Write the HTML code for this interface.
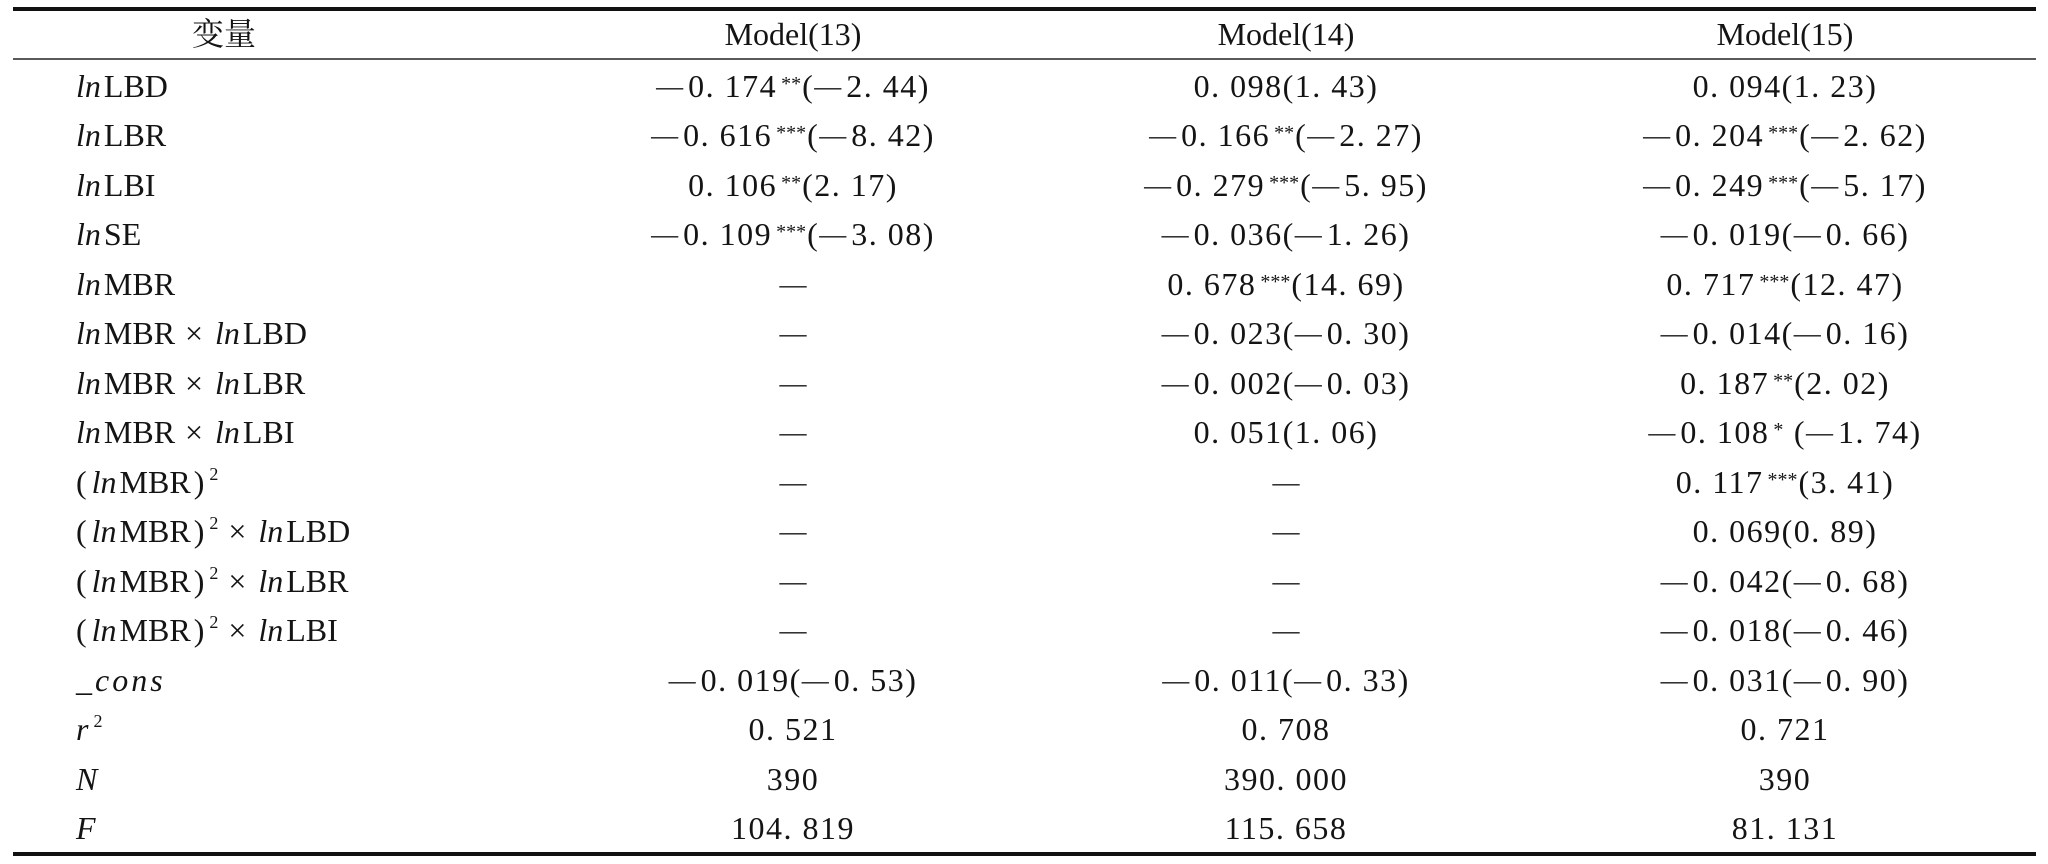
<!DOCTYPE html>
<html>
<head>
<meta charset="utf-8">
<style>
html,body{margin:0;padding:0;background:#fff;}
body{width:2048px;height:864px;position:relative;overflow:hidden;
font-family:"Liberation Serif","Noto Serif CJK SC",serif;color:#141414;font-size:32px;}
.line{position:absolute;left:13px;width:2023px;}
.t{position:absolute;height:50px;line-height:50px;white-space:nowrap;}
.lab{left:76px;}
.c{width:600px;text-align:center;letter-spacing:1.5px;}
.c1{left:493px;}
.c2{left:986px;}
.c3{left:1485px;}
i.ln{margin-right:3px;}
.m{font-size:27px;position:relative;top:-2px;margin-right:5px;letter-spacing:0;}
.m0{font-size:27px;position:relative;top:-2px;letter-spacing:0;}
sup.st{font-size:20px;vertical-align:7px;margin-left:4px;margin-right:1px;letter-spacing:0;line-height:0;}
sup.s2{font-size:18px;vertical-align:13px;margin-left:5px;line-height:0;}
.x{display:inline-block;width:42px;text-align:center;margin-left:-2px;}
.lp{margin-right:5px;}
.rp{margin-left:3px;}
.cons{letter-spacing:3px;}
.hd{position:absolute;top:9px;height:50px;line-height:50px;white-space:nowrap;}
</style>
</head>
<body>
<div class="line" style="top:7px;height:4px;background:#111;"></div>
<div class="line" style="top:58px;height:2px;background:#5a5a5a;"></div>
<div class="line" style="top:852px;height:4px;background:#111;"></div>

<div class="hd" style="left:124px;width:200px;text-align:center;top:7px;font-family:'Noto Serif CJK SC','Liberation Serif',serif;">变量</div>
<div class="hd c c1" style="letter-spacing:0;">Model(13)</div>
<div class="hd c c2" style="letter-spacing:0;">Model(14)</div>
<div class="hd c c3" style="letter-spacing:0;">Model(15)</div>

<!-- row 0 -->
<div class="t lab" style="top:61px;"><i class="ln">ln</i>LBD</div>
<div class="t c c1" style="top:61px;"><span class="m">—</span>0. 174<sup class="st">**</sup>(<span class="m">—</span>2. 44)</div>
<div class="t c c2" style="top:61px;">0. 098(1. 43)</div>
<div class="t c c3" style="top:61px;">0. 094(1. 23)</div>

<!-- row 1 -->
<div class="t lab" style="top:110px;"><i class="ln">ln</i>LBR</div>
<div class="t c c1" style="top:110px;"><span class="m">—</span>0. 616<sup class="st">***</sup>(<span class="m">—</span>8. 42)</div>
<div class="t c c2" style="top:110px;"><span class="m">—</span>0. 166<sup class="st">**</sup>(<span class="m">—</span>2. 27)</div>
<div class="t c c3" style="top:110px;"><span class="m">—</span>0. 204<sup class="st">***</sup>(<span class="m">—</span>2. 62)</div>

<!-- row 2 -->
<div class="t lab" style="top:160px;"><i class="ln">ln</i>LBI</div>
<div class="t c c1" style="top:160px;">0. 106<sup class="st">**</sup>(2. 17)</div>
<div class="t c c2" style="top:160px;"><span class="m">—</span>0. 279<sup class="st">***</sup>(<span class="m">—</span>5. 95)</div>
<div class="t c c3" style="top:160px;"><span class="m">—</span>0. 249<sup class="st">***</sup>(<span class="m">—</span>5. 17)</div>

<!-- row 3 -->
<div class="t lab" style="top:209px;"><i class="ln">ln</i>SE</div>
<div class="t c c1" style="top:209px;"><span class="m">—</span>0. 109<sup class="st">***</sup>(<span class="m">—</span>3. 08)</div>
<div class="t c c2" style="top:209px;"><span class="m">—</span>0. 036(<span class="m">—</span>1. 26)</div>
<div class="t c c3" style="top:209px;"><span class="m">—</span>0. 019(<span class="m">—</span>0. 66)</div>

<!-- row 4 -->
<div class="t lab" style="top:259px;"><i class="ln">ln</i>MBR</div>
<div class="t c c1" style="top:259px;"><span class="m0">—</span></div>
<div class="t c c2" style="top:259px;">0. 678<sup class="st">***</sup>(14. 69)</div>
<div class="t c c3" style="top:259px;">0. 717<sup class="st">***</sup>(12. 47)</div>

<!-- row 5 -->
<div class="t lab" style="top:308px;"><i class="ln">ln</i>MBR<span class="x">×</span><i class="ln">ln</i>LBD</div>
<div class="t c c1" style="top:308px;"><span class="m0">—</span></div>
<div class="t c c2" style="top:308px;"><span class="m">—</span>0. 023(<span class="m">—</span>0. 30)</div>
<div class="t c c3" style="top:308px;"><span class="m">—</span>0. 014(<span class="m">—</span>0. 16)</div>

<!-- row 6 -->
<div class="t lab" style="top:358px;"><i class="ln">ln</i>MBR<span class="x">×</span><i class="ln">ln</i>LBR</div>
<div class="t c c1" style="top:358px;"><span class="m0">—</span></div>
<div class="t c c2" style="top:358px;"><span class="m">—</span>0. 002(<span class="m">—</span>0. 03)</div>
<div class="t c c3" style="top:358px;">0. 187<sup class="st">**</sup>(2. 02)</div>

<!-- row 7 -->
<div class="t lab" style="top:407px;"><i class="ln">ln</i>MBR<span class="x">×</span><i class="ln">ln</i>LBI</div>
<div class="t c c1" style="top:407px;"><span class="m0">—</span></div>
<div class="t c c2" style="top:407px;">0. 051(1. 06)</div>
<div class="t c c3" style="top:407px;"><span class="m">—</span>0. 108<sup class="st">*</sup> (<span class="m">—</span>1. 74)</div>

<!-- row 8 -->
<div class="t lab" style="top:457px;"><span class="lp">(</span><i class="ln">ln</i>MBR<span class="rp">)</span><sup class="s2">2</sup></div>
<div class="t c c1" style="top:457px;"><span class="m0">—</span></div>
<div class="t c c2" style="top:457px;"><span class="m0">—</span></div>
<div class="t c c3" style="top:457px;">0. 117<sup class="st">***</sup>(3. 41)</div>

<!-- row 9 -->
<div class="t lab" style="top:506px;"><span class="lp">(</span><i class="ln">ln</i>MBR<span class="rp">)</span><sup class="s2">2</sup><span class="x">×</span><i class="ln">ln</i>LBD</div>
<div class="t c c1" style="top:506px;"><span class="m0">—</span></div>
<div class="t c c2" style="top:506px;"><span class="m0">—</span></div>
<div class="t c c3" style="top:506px;">0. 069(0. 89)</div>

<!-- row 10 -->
<div class="t lab" style="top:556px;"><span class="lp">(</span><i class="ln">ln</i>MBR<span class="rp">)</span><sup class="s2">2</sup><span class="x">×</span><i class="ln">ln</i>LBR</div>
<div class="t c c1" style="top:556px;"><span class="m0">—</span></div>
<div class="t c c2" style="top:556px;"><span class="m0">—</span></div>
<div class="t c c3" style="top:556px;"><span class="m">—</span>0. 042(<span class="m">—</span>0. 68)</div>

<!-- row 11 -->
<div class="t lab" style="top:605px;"><span class="lp">(</span><i class="ln">ln</i>MBR<span class="rp">)</span><sup class="s2">2</sup><span class="x">×</span><i class="ln">ln</i>LBI</div>
<div class="t c c1" style="top:605px;"><span class="m0">—</span></div>
<div class="t c c2" style="top:605px;"><span class="m0">—</span></div>
<div class="t c c3" style="top:605px;"><span class="m">—</span>0. 018(<span class="m">—</span>0. 46)</div>

<!-- row 12 -->
<div class="t lab" style="top:655px;"><i class="cons">_cons</i></div>
<div class="t c c1" style="top:655px;"><span class="m">—</span>0. 019(<span class="m">—</span>0. 53)</div>
<div class="t c c2" style="top:655px;"><span class="m">—</span>0. 011(<span class="m">—</span>0. 33)</div>
<div class="t c c3" style="top:655px;"><span class="m">—</span>0. 031(<span class="m">—</span>0. 90)</div>

<!-- row 13 -->
<div class="t lab" style="top:704px;"><i>r</i><sup class="s2">2</sup></div>
<div class="t c c1" style="top:704px;">0. 521</div>
<div class="t c c2" style="top:704px;">0. 708</div>
<div class="t c c3" style="top:704px;">0. 721</div>

<!-- row 14 -->
<div class="t lab" style="top:754px;"><i>N</i></div>
<div class="t c c1" style="top:754px;">390</div>
<div class="t c c2" style="top:754px;">390. 000</div>
<div class="t c c3" style="top:754px;">390</div>

<!-- row 15 -->
<div class="t lab" style="top:803px;"><i>F</i></div>
<div class="t c c1" style="top:803px;">104. 819</div>
<div class="t c c2" style="top:803px;">115. 658</div>
<div class="t c c3" style="top:803px;">81. 131</div>
</body>
</html>
